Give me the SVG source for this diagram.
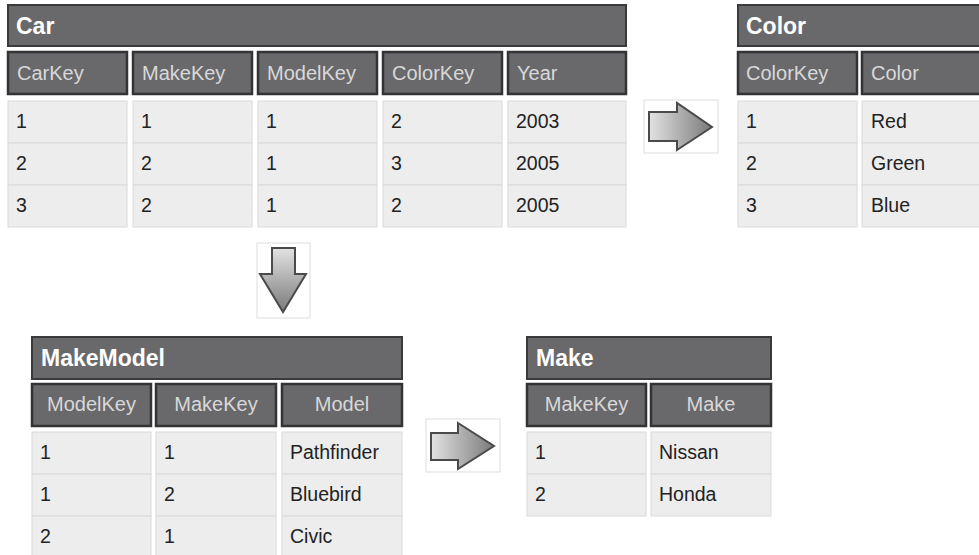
<svg xmlns="http://www.w3.org/2000/svg" width="979" height="555" viewBox="0 0 979 555">
<defs>
<style>
.ttl{fill:#69696c;stroke:#3a3a3c;stroke-width:2}
.hd{fill:#69696c;stroke:#333335;stroke-width:2.5}
.cell{fill:#ededed;stroke:#dadada;stroke-width:1}
.tt{font-family:"Liberation Sans",Arial,sans-serif;font-size:23px;font-weight:bold;fill:#ffffff}
.ht{font-family:"Liberation Sans",Arial,sans-serif;font-size:20px;fill:#d8d8d8}
.hc{text-anchor:middle}
.dt{font-family:"Liberation Sans",Arial,sans-serif;font-size:19.5px;fill:#222222}
.abox{fill:#ffffff;stroke:#dddddd;stroke-width:1}
.arr{stroke:#4a4a4a;stroke-width:2;stroke-linejoin:miter}
</style>
<linearGradient id="gh" x1="0" y1="0" x2="1" y2="0">
<stop offset="0" stop-color="#e2e2e2"/>
<stop offset="1" stop-color="#7a7a7a"/>
</linearGradient>
<linearGradient id="gv" x1="0" y1="0" x2="0" y2="1">
<stop offset="0" stop-color="#e2e2e2"/>
<stop offset="1" stop-color="#7a7a7a"/>
</linearGradient>
</defs>
<rect width="979" height="555" fill="#ffffff"/>

<g id="car">
<rect class="ttl" x="8" y="5" width="618" height="41"/>
<text class="tt" x="16" y="34">Car</text>
<rect class="hd" x="8" y="52" width="119" height="42"/>
<rect class="hd" x="133" y="52" width="119" height="42"/>
<rect class="hd" x="258" y="52" width="119" height="42"/>
<rect class="hd" x="383" y="52" width="119" height="42"/>
<rect class="hd" x="508" y="52" width="118" height="42"/>
<text class="ht" x="17" y="80">CarKey</text>
<text class="ht" x="142" y="80">MakeKey</text>
<text class="ht" x="267" y="80">ModelKey</text>
<text class="ht" x="392" y="80">ColorKey</text>
<text class="ht" x="517" y="80">Year</text>
<rect class="cell" x="8" y="101" width="119" height="42"/>
<rect class="cell" x="133" y="101" width="119" height="42"/>
<rect class="cell" x="258" y="101" width="119" height="42"/>
<rect class="cell" x="383" y="101" width="119" height="42"/>
<rect class="cell" x="508" y="101" width="118" height="42"/>
<rect class="cell" x="8" y="143" width="119" height="42"/>
<rect class="cell" x="133" y="143" width="119" height="42"/>
<rect class="cell" x="258" y="143" width="119" height="42"/>
<rect class="cell" x="383" y="143" width="119" height="42"/>
<rect class="cell" x="508" y="143" width="118" height="42"/>
<rect class="cell" x="8" y="185" width="119" height="42"/>
<rect class="cell" x="133" y="185" width="119" height="42"/>
<rect class="cell" x="258" y="185" width="119" height="42"/>
<rect class="cell" x="383" y="185" width="119" height="42"/>
<rect class="cell" x="508" y="185" width="118" height="42"/>
<text class="dt" x="16" y="128">1</text>
<text class="dt" x="141" y="128">1</text>
<text class="dt" x="266" y="128">1</text>
<text class="dt" x="391" y="128">2</text>
<text class="dt" x="516" y="128">2003</text>
<text class="dt" x="16" y="170">2</text>
<text class="dt" x="141" y="170">2</text>
<text class="dt" x="266" y="170">1</text>
<text class="dt" x="391" y="170">3</text>
<text class="dt" x="516" y="170">2005</text>
<text class="dt" x="16" y="212">3</text>
<text class="dt" x="141" y="212">2</text>
<text class="dt" x="266" y="212">1</text>
<text class="dt" x="391" y="212">2</text>
<text class="dt" x="516" y="212">2005</text>
</g>

<g id="color">
<rect class="ttl" x="738" y="5" width="250" height="41"/>
<text class="tt" x="746" y="34">Color</text>
<rect class="hd" x="738" y="52" width="119" height="42"/>
<rect class="hd" x="862" y="52" width="125" height="42"/>
<text class="ht" x="746" y="80">ColorKey</text>
<text class="ht" x="871" y="80">Color</text>
<rect class="cell" x="738" y="101" width="119" height="42"/>
<rect class="cell" x="862" y="101" width="125" height="42"/>
<rect class="cell" x="738" y="143" width="119" height="42"/>
<rect class="cell" x="862" y="143" width="125" height="42"/>
<rect class="cell" x="738" y="185" width="119" height="42"/>
<rect class="cell" x="862" y="185" width="125" height="42"/>
<text class="dt" x="746" y="128">1</text>
<text class="dt" x="871" y="128">Red</text>
<text class="dt" x="746" y="170">2</text>
<text class="dt" x="871" y="170">Green</text>
<text class="dt" x="746" y="212">3</text>
<text class="dt" x="871" y="212">Blue</text>
</g>

<g id="makemodel">
<rect class="ttl" x="32" y="337" width="370" height="42"/>
<text class="tt" x="41" y="366">MakeModel</text>
<rect class="hd" x="32" y="384" width="119" height="42"/>
<rect class="hd" x="156" y="384" width="120" height="42"/>
<rect class="hd" x="282" y="384" width="120" height="42"/>
<text class="ht hc" x="91.5" y="411">ModelKey</text>
<text class="ht hc" x="216" y="411">MakeKey</text>
<text class="ht hc" x="342" y="411">Model</text>
<rect class="cell" x="32" y="432" width="119" height="42"/>
<rect class="cell" x="156" y="432" width="120" height="42"/>
<rect class="cell" x="282" y="432" width="120" height="42"/>
<rect class="cell" x="32" y="474" width="119" height="42"/>
<rect class="cell" x="156" y="474" width="120" height="42"/>
<rect class="cell" x="282" y="474" width="120" height="42"/>
<rect class="cell" x="32" y="516" width="119" height="42"/>
<rect class="cell" x="156" y="516" width="120" height="42"/>
<rect class="cell" x="282" y="516" width="120" height="42"/>
<text class="dt" x="40" y="459">1</text>
<text class="dt" x="164" y="459">1</text>
<text class="dt" x="290" y="459">Pathfinder</text>
<text class="dt" x="40" y="501">1</text>
<text class="dt" x="164" y="501">2</text>
<text class="dt" x="290" y="501">Bluebird</text>
<text class="dt" x="40" y="543">2</text>
<text class="dt" x="164" y="543">1</text>
<text class="dt" x="290" y="543">Civic</text>
</g>

<g id="make">
<rect class="ttl" x="527" y="337" width="244" height="42"/>
<text class="tt" x="536" y="366">Make</text>
<rect class="hd" x="527" y="384" width="119" height="42"/>
<rect class="hd" x="651" y="384" width="120" height="42"/>
<text class="ht hc" x="586.5" y="411">MakeKey</text>
<text class="ht hc" x="711" y="411">Make</text>
<rect class="cell" x="527" y="432" width="119" height="42"/>
<rect class="cell" x="651" y="432" width="120" height="42"/>
<rect class="cell" x="527" y="474" width="119" height="42"/>
<rect class="cell" x="651" y="474" width="120" height="42"/>
<text class="dt" x="535" y="459">1</text>
<text class="dt" x="659" y="459">Nissan</text>
<text class="dt" x="535" y="501">2</text>
<text class="dt" x="659" y="501">Honda</text>
</g>

<g id="connectors">
<rect class="abox" x="644" y="100" width="74" height="53"/>
<path class="arr" fill="url(#gh)" d="M649,112 L677,112 L677,103 L712,127 L677,150 L677,141 L649,141 Z"/>
<rect class="abox" x="257" y="243" width="53" height="75"/>
<path class="arr" fill="url(#gv)" d="M272,248 L295,248 L295,274 L306,274 L283,312 L260,274 L272,274 Z"/>
<rect class="abox" x="426" y="419" width="74" height="53"/>
<path class="arr" fill="url(#gh)" d="M431,433 L458,433 L458,423 L494,446 L458,469 L458,460 L431,460 Z"/>
</g>
</svg>
